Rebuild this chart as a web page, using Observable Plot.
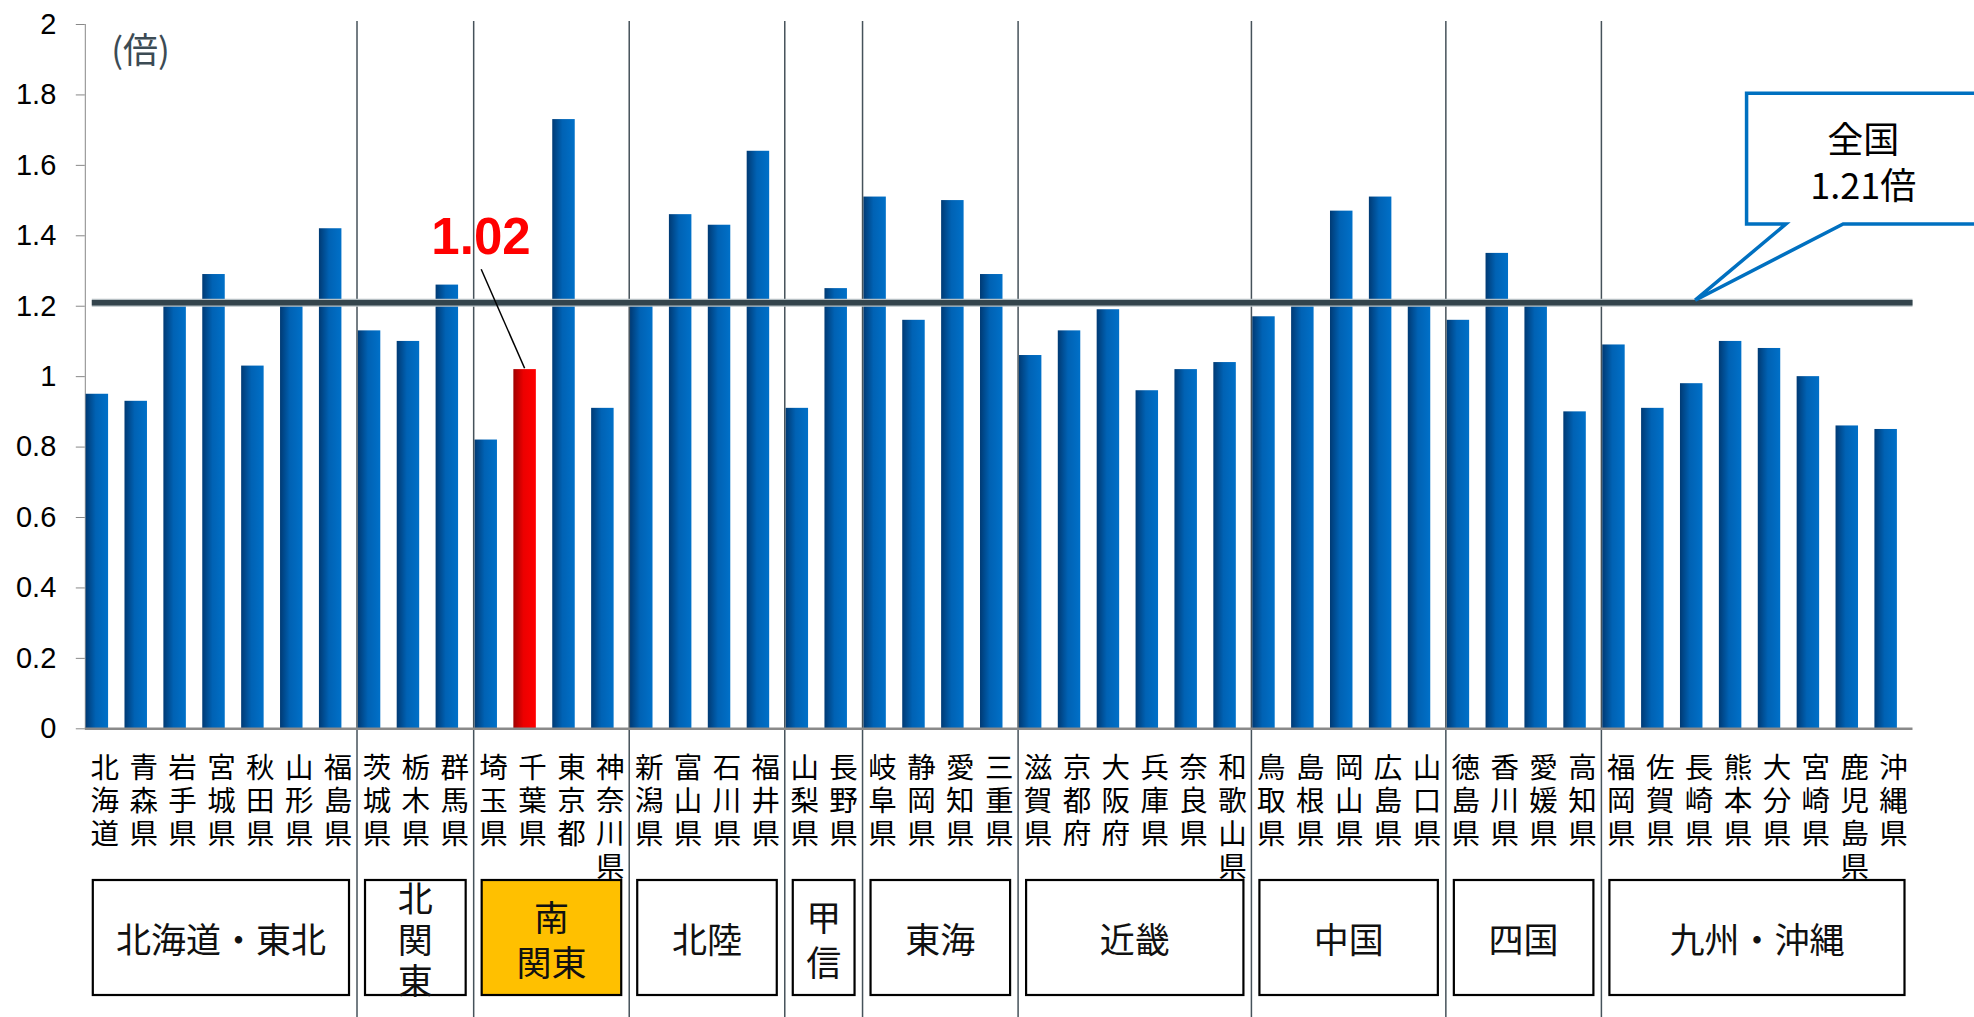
<!DOCTYPE html>
<html>
<head>
<meta charset="utf-8">
<script src="https://cdn.jsdelivr.net/npm/d3@7"></script>
<script src="https://cdn.jsdelivr.net/npm/@observablehq/plot@0.6"></script>
<style>
html, body { margin: 0; padding: 0; background: #fff; }
#chart { width: 1974px; height: 1017px; overflow: hidden; }
</style>
</head>
<body>
<div id="chart"></div>
<script>
// ---------- data ----------
const prefectures = ["北海道","青森県","岩手県","宮城県","秋田県","山形県","福島県",
  "茨城県","栃木県","群馬県",
  "埼玉県","千葉県","東京都","神奈川県",
  "新潟県","富山県","石川県","福井県",
  "山梨県","長野県",
  "岐阜県","静岡県","愛知県","三重県",
  "滋賀県","京都府","大阪府","兵庫県","奈良県","和歌山県",
  "鳥取県","島根県","岡山県","広島県","山口県",
  "徳島県","香川県","愛媛県","高知県",
  "福岡県","佐賀県","長崎県","熊本県","大分県","宮崎県","鹿児島県","沖縄県"];
const ratios = [0.95,0.93,1.21,1.29,1.03,1.21,1.42,
  1.13,1.10,1.26,
  0.82,1.02,1.73,0.91,
  1.21,1.46,1.43,1.64,
  0.91,1.25,
  1.51,1.16,1.50,1.29,
  1.06,1.13,1.19,0.96,1.02,1.04,
  1.17,1.21,1.47,1.51,1.21,
  1.16,1.35,1.21,0.90,
  1.09,0.91,0.98,1.10,1.08,1.00,0.86,0.85];
const regionNames = ["北海道・東北","北関東","南関東","北陸","甲信","東海","近畿","中国","四国","九州・沖縄"];
const regionLabelLines = [["北海道・東北"],["北","関","東"],["南","関東"],["北陸"],["甲","信"],["東海"],["近畿"],["中国"],["四国"],["九州・沖縄"]];
const regionSizes = [7,3,4,4,2,4,6,5,4,8];
const highlightRegion = "南関東";
const highlightPref = "千葉県";
const highlightLabel = "1.02";
const nationalValue = 1.21;
const nationalLabel = ["全国","1.21倍"];
const nationalAnchorPref = "長崎県";
const yTicks = [0,0.2,0.4,0.6,0.8,1,1.2,1.4,1.6,1.8,2];
const unitLabel = "(倍)";

// ---------- layout ----------
const W = 1974, H = 1017;
const mL = 84.8, mR = 61.5, mT = 24, mB = 288.7;
const insetL = 0.8, insetR = 15.6;
const cjk = "'Noto Sans CJK JP', 'Noto Sans', sans-serif";
const latin = "'Liberation Sans', Arial, sans-serif";

const data = prefectures.map((name, i) => ({name, value: ratios[i]}));

const plot = Plot.plot({
  width: W, height: H,
  marginLeft: mL, marginRight: mR, marginTop: mT, marginBottom: mB,
  style: {fontFamily: latin, fontSize: "29px", color: "#888888", background: "#ffffff", overflow: "visible"},
  x: {type: "band", domain: prefectures, range: [mL, W - mR], padding: 0, round: false, axis: null},
  y: {type: "linear", domain: [0, 2], range: [H - mB, mT], ticks: yTicks, tickFormat: d => String(d),
      tickSize: 9, tickPadding: 20, line: true, label: null},
  marks: [
    Plot.barY(data.filter(d => d.name !== highlightPref), {x: "name", y: "value", fill: "url(#gBlue)", insetLeft: insetL, insetRight: insetR}),
    Plot.barY(data.filter(d => d.name === highlightPref), {x: "name", y: "value", fill: "url(#gRed)", insetLeft: insetL, insetRight: insetR}),
    Plot.ruleY([nationalValue], {stroke: "#b7c0c4", strokeWidth: 8, insetLeft: 7}),
    Plot.ruleY([nationalValue], {stroke: "#33444c", strokeWidth: 5.5, insetLeft: 7}),
    Plot.ruleY([0], {stroke: "#8a8a8a", strokeWidth: 2.5}),
    Plot.text(prefectures, {x: d => d, text: d => Array.from(d).join("\n"), frameAnchor: "bottom",
      lineAnchor: "top", dy: 25.7, lineHeight: 1.158, fontSize: 28.5, fontFamily: cjk, fill: "#000"})
  ]
});

// ---------- post-render annotations anchored on the scales ----------
const ns = "http://www.w3.org/2000/svg";
const svgEl = plot.tagName.toLowerCase() === "svg" ? plot : plot.querySelector("svg");
const svg = d3.select(svgEl);
const xs = d3.scaleBand().domain(prefectures).range([mL, W - mR]).padding(0);
const ys = d3.scaleLinear().domain([0, 2]).range([H - mB, mT]);
const bw = xs.bandwidth();

// gradients
const defs = document.createElementNS(ns, "defs");
defs.innerHTML = `
<linearGradient id="gBlue" x1="0" x2="1" y1="0" y2="0">
  <stop offset="0" stop-color="#003a74"/>
  <stop offset="0.45" stop-color="#0062b4"/>
  <stop offset="1" stop-color="#0070c8"/>
</linearGradient>
<linearGradient id="gRed" x1="0" x2="1" y1="0" y2="0">
  <stop offset="0" stop-color="#a00000"/>
  <stop offset="0.45" stop-color="#ec0000"/>
  <stop offset="1" stop-color="#ff0000"/>
</linearGradient>`;
svgEl.insertBefore(defs, svgEl.firstChild);

// y axis text in black
svg.selectAll('[aria-label^="y-axis"] text').attr("fill", "#000");

// region dividers (under the national line)
const firstRule = svgEl.querySelector('g[aria-label="rule"]');
const divG = document.createElementNS(ns, "g");
svgEl.insertBefore(divG, firstRule);
let cum = 0;
const groups = regionSizes.map((n, i) => { const g = {name: regionNames[i], lines: regionLabelLines[i], s: cum, e: cum + n - 1}; cum += n; return g; });
groups.slice(1).forEach(g => {
  const x = xs(prefectures[g.s]);
  d3.select(divG).append("line").attr("x1", x).attr("x2", x).attr("y1", 21).attr("y2", H)
    .attr("stroke", "#46525a").attr("stroke-width", 1.5);
});

// region boxes
const base = ys(0);
const boxTop = base + 151.7, boxBot = base + 266.7, boxMid = (boxTop + boxBot) / 2;
const boxG = svg.append("g");
groups.forEach(g => {
  const x0 = xs(prefectures[g.s]) + 8, x1 = xs(prefectures[g.e]) + bw - 8;
  boxG.append("rect").attr("x", x0).attr("y", boxTop).attr("width", x1 - x0).attr("height", boxBot - boxTop)
    .attr("fill", g.name === highlightRegion ? "#ffc000" : "#ffffff").attr("stroke", "#000").attr("stroke-width", 2.2);
  const step = g.lines.length === 3 ? 41 : 45;
  const n = g.lines.length;
  g.lines.forEach((t, k) => {
    boxG.append("text").attr("x", (x0 + x1) / 2).attr("y", boxMid + (k - (n - 1) / 2) * step)
      .attr("text-anchor", "middle").attr("dominant-baseline", "central")
      .attr("font-family", cjk).attr("font-size", 35).attr("fill", "#111").text(t);
  });
});

// unit label
svg.append("text").attr("x", mL + 55.7).attr("y", ys(2) + 23).attr("text-anchor", "middle").attr("dominant-baseline", "central")
  .attr("font-family", cjk).attr("font-size", 35).attr("fill", "#3c4b54").text(unitLabel);

// national callout
const tipX = xs(nationalAnchorPref) + 16, tipY = ys(nationalValue) - 2;
const bL = tipX + 51.4, bT = tipY - 207, bB = tipY - 76.2, pL = tipX + 90.7, pR = tipX + 148, bR = W + 10;
svg.append("path")
  .attr("d", `M${bL},${bT}H${bR}V${bB}H${pR}L${tipX},${tipY}L${pL},${bB}H${bL}Z`)
  .attr("fill", "#fff").attr("stroke", "#0070c0").attr("stroke-width", 3.5).attr("stroke-linejoin", "miter");
svg.append("text").attr("x", tipX + 168).attr("y", tipY - 162.7).attr("text-anchor", "middle").attr("dominant-baseline", "central")
  .attr("font-family", cjk).attr("font-size", 36).attr("fill", "#000").text(nationalLabel[0]);
svg.append("text").attr("x", tipX + 168).attr("y", tipY - 117.2).attr("text-anchor", "middle").attr("dominant-baseline", "central")
  .attr("font-family", cjk).attr("font-size", 36).attr("fill", "#000").text(nationalLabel[1]);

// highlighted value label
const hcx = xs(highlightPref) + insetL + (bw - insetL - insetR) / 2, hcy = ys(ratios[prefectures.indexOf(highlightPref)]);
svg.append("line").attr("x1", hcx - 43.4).attr("y1", hcy - 99.8).attr("x2", hcx).attr("y2", hcy - 0.8)
  .attr("stroke", "#000").attr("stroke-width", 1.5);
svg.append("text").attr("x", hcx - 43.6).attr("y", hcy - 115.6).attr("text-anchor", "middle")
  .attr("font-family", latin).attr("font-weight", "bold").attr("font-size", 51).attr("fill", "#ff0000").text(highlightLabel);

document.getElementById("chart").append(plot);
</script>
</body>
</html>
